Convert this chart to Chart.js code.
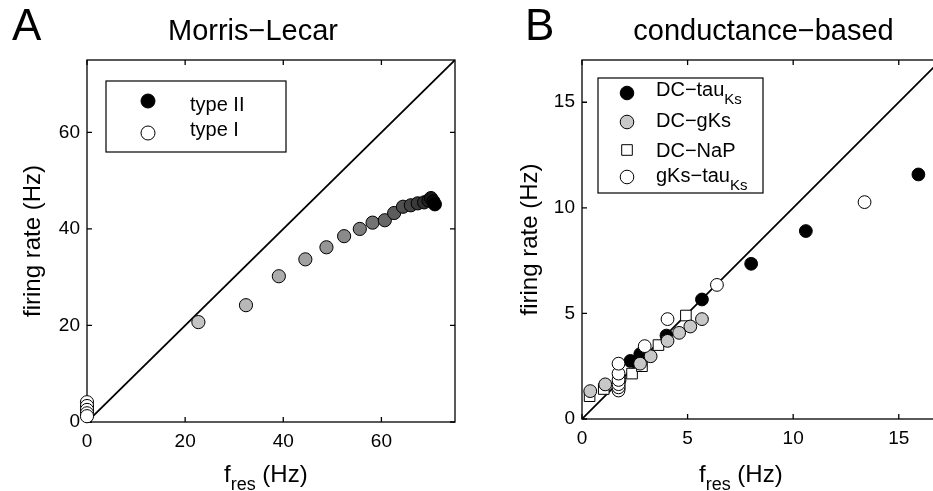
<!DOCTYPE html>
<html>
<head>
<meta charset="utf-8">
<script src="https://cdn.jsdelivr.net/npm/chart.js@4.4.1/dist/chart.umd.min.js"></script>
<style>
  html, body { margin: 0; padding: 0; background: #fff; overflow: hidden; width: 933px; height: 491px; }
  #ca { position: absolute; left: 0; top: 0; }
  #cb { position: absolute; left: 470px; top: 0; }
</style>
</head>
<body>
<canvas id="ca" width="470" height="491"></canvas>
<canvas id="cb" width="480" height="491"></canvas>
<script>
// ---------- Panel A: Morris–Lecar ----------
const mlTicks = [0, 20, 40, 60];
const mlMax = 75;
const mlTypeIIFres = [22.7, 32.4, 39.1, 44.5, 48.8, 52.4, 55.6, 58.2, 60.7, 62.6, 64.4, 66.0, 67.4, 68.7, 69.6, 70.1, 70.6, 70.9];
const mlTypeIIRate = [20.7, 24.2, 30.2, 33.7, 36.2, 38.5, 40.0, 41.3, 41.8, 43.3, 44.6, 44.9, 45.3, 45.5, 45.9, 46.4, 45.7, 45.1];
const mlTypeIFres = [0, 0, 0, 0, 0];
const mlTypeIRate = [4.1, 3.3, 2.5, 1.8, 1.2];

// ---------- Panel B: conductance-based ----------
const cbTicks = [0, 5, 10, 15];
const cbMax = 17;
const dcTauFres = [2.29, 2.76, 4.0, 5.68, 8.01, 10.6, 15.93];
const dcTauRate = [2.75, 3.08, 3.95, 5.66, 7.35, 8.9, 11.58];
const dcGksFres = [0.39, 1.1, 1.78, 2.75, 3.25, 4.05, 4.6, 5.13, 5.68];
const dcGksRate = [1.32, 1.64, 1.85, 2.62, 2.97, 3.7, 4.08, 4.38, 4.73];
const dcNapFres = [0.36, 1.03, 1.78, 2.37, 2.84, 3.62, 4.92];
const dcNapRate = [1.08, 1.42, 1.62, 2.15, 2.5, 3.5, 4.9];
const gksTauFres = [1.73, 1.73, 1.73, 1.73, 1.73, 1.73, 2.97, 4.05, 6.39, 13.38];
const gksTauRate = [1.35, 1.5, 1.65, 1.85, 2.15, 2.62, 3.45, 4.73, 6.35, 10.27];

const FONT = '"Liberation Sans", Arial, Helvetica, sans-serif';

function pts(xs, ys) { return xs.map((x, i) => ({ x: x, y: ys[i] })); }

// Boxed axes with inward tick marks on all four sides
const framePlugin = {
  id: 'frame',
  beforeDatasetsDraw(chart) {
    const { ctx, chartArea: a, scales } = chart;
    ctx.save();
    ctx.strokeStyle = '#000';
    ctx.lineWidth = 1.3;
    ctx.strokeRect(a.left, a.top, a.right - a.left, a.bottom - a.top);
    const tl = 5;
    ctx.beginPath();
    scales.x.ticks.forEach(t => {
      const px = scales.x.getPixelForValue(t.value);
      ctx.moveTo(px, a.bottom); ctx.lineTo(px, a.bottom - tl);
      ctx.moveTo(px, a.top); ctx.lineTo(px, a.top + tl);
    });
    scales.y.ticks.forEach(t => {
      const py = scales.y.getPixelForValue(t.value);
      ctx.moveTo(a.left, py); ctx.lineTo(a.left + tl, py);
      ctx.moveTo(a.right, py); ctx.lineTo(a.right - tl, py);
    });
    ctx.stroke();
    ctx.restore();
  }
};

// Draws a run of text pieces, each [text, size, baselineShift]
function drawRuns(ctx, x, y, runs) {
  let cx = x;
  runs.forEach(([txt, size, dy]) => {
    ctx.font = size + 'px ' + FONT;
    ctx.fillText(txt, cx, y + dy);
    cx += ctx.measureText(txt).width;
  });
}

function drawMarker(ctx, style, x, y, r, fill) {
  ctx.save();
  ctx.fillStyle = fill;
  ctx.strokeStyle = '#000';
  ctx.lineWidth = 1;
  ctx.beginPath();
  if (style === 'rect') {
    const s = r * Math.SQRT1_2;
    ctx.rect(x - s, y - s, 2 * s, 2 * s);
  } else {
    ctx.arc(x, y, r, 0, Math.PI * 2);
  }
  ctx.fill();
  ctx.stroke();
  ctx.restore();
}

function makeTextPlugin(cfg) {
  return {
    id: 'texts',
    afterDraw(chart) {
      const { ctx, chartArea: a } = chart;
      ctx.save();
      ctx.fillStyle = '#000';
      ctx.textBaseline = 'alphabetic';
      // panel letter
      ctx.textAlign = 'left';
      ctx.font = '44px ' + FONT;
      ctx.fillText(cfg.letter, cfg.letterX, 40);
      // title
      ctx.textAlign = 'center';
      ctx.font = '29px ' + FONT;
      ctx.fillText(cfg.title, (a.left + a.right) / 2 + cfg.titleShift, 40);
      // y label
      ctx.save();
      ctx.translate(cfg.yLabelX, (a.top + a.bottom) / 2);
      ctx.rotate(-Math.PI / 2);
      ctx.font = '24px ' + FONT;
      ctx.fillText('firing rate (Hz)', 0, 0);
      ctx.restore();
      // x label with subscript
      ctx.textAlign = 'left';
      drawRuns(ctx, cfg.xLabelX, 482, [['f', 24, 0], ['res', 18, 8], [' (Hz)', 24, 0]]);
      // legend
      const L = cfg.legend;
      ctx.fillStyle = '#fff';
      ctx.fillRect(L.x, L.y, L.w, L.h);
      ctx.strokeStyle = '#000';
      ctx.lineWidth = 1.2;
      ctx.strokeRect(L.x, L.y, L.w, L.h);
      L.items.forEach(it => {
        drawMarker(ctx, it.style, L.mx, it.my, it.r, it.fill);
        ctx.fillStyle = '#000';
        drawRuns(ctx, L.tx, it.ty, it.runs);
      });
      ctx.restore();
    }
  };
}

function axisOpts(min, max, tickList, size, pad) {
  return {
    type: 'linear',
    min: min,
    max: max,
    afterBuildTicks: s => { s.ticks = tickList.map(v => ({ value: v })); },
    afterFit: s => { if (s.isHorizontal()) s.height = size; else s.width = size; },
    grid: { display: false, drawTicks: false },
    border: { display: false },
    ticks: { padding: pad, color: '#000', font: { family: FONT, size: 19 }, maxRotation: 0, autoSkip: false }
  };
}

const commonOpts = {
  responsive: false,
  animation: false,
  events: [],
  plugins: { legend: { display: false }, tooltip: { enabled: false }, title: { display: false } }
};

// ----- Panel A chart -----
const nII = mlTypeIIFres.length;
function greyShade(ctx) {
  const t = ctx.dataIndex / (nII - 1);
  const g = Math.round(195 * (1 - t));
  return 'rgb(' + g + ',' + g + ',' + g + ')';
}

new Chart(document.getElementById('ca'), {
  type: 'scatter',
  data: {
    datasets: [
      { label: 'diag', type: 'line', data: [{ x: 0, y: 0 }, { x: mlMax, y: mlMax }], borderColor: '#000', borderWidth: 1.8, pointRadius: 0, fill: false, order: 3 },
      { label: 'type II', data: pts(mlTypeIIFres, mlTypeIIRate), pointRadius: 6.6, pointBackgroundColor: greyShade, pointBorderColor: '#000', pointBorderWidth: 1, clip: false, order: 1 },
      { label: 'type I', data: pts(mlTypeIFres, mlTypeIRate), pointRadius: 6.6, pointBackgroundColor: '#fff', pointBorderColor: '#000', pointBorderWidth: 1, clip: false, order: 2 }
    ]
  },
  options: Object.assign({}, commonOpts, {
    layout: { padding: { left: 37, right: 15, top: 60, bottom: 29 } },
    scales: {
      x: axisOpts(0, mlMax, mlTicks, 40, 8),
      y: axisOpts(0, mlMax, mlTicks, 50, 7)
    }
  }),
  plugins: [framePlugin, makeTextPlugin({
    letter: 'A', letterX: 12, title: 'Morris\u2212Lecar', titleShift: -18,
    yLabelX: 40, xLabelX: 224,
    legend: {
      x: 106, y: 81, w: 180, h: 71, mx: 148, tx: 190,
      items: [
        { style: 'circle', r: 7, fill: '#000', my: 101, ty: 111, runs: [['type II', 20, 0]] },
        { style: 'circle', r: 7, fill: '#fff', my: 133, ty: 136, runs: [['type I', 20, 0]] }
      ]
    }
  })]
});

// ----- Panel B chart -----
new Chart(document.getElementById('cb'), {
  type: 'scatter',
  data: {
    datasets: [
      { label: 'diag', type: 'line', data: [{ x: 0, y: 0 }, { x: cbMax, y: cbMax }], borderColor: '#000', borderWidth: 1.8, pointRadius: 0, fill: false, order: 5 },
      { label: 'gKs-tauKs', data: pts(gksTauFres, gksTauRate), pointRadius: 6.4, pointBackgroundColor: '#fff', pointBorderColor: '#000', pointBorderWidth: 1, clip: false, order: 1 },
      { label: 'DC-NaP', data: pts(dcNapFres, dcNapRate), pointStyle: 'rect', pointRadius: 7.5, pointBackgroundColor: '#fff', pointBorderColor: '#000', pointBorderWidth: 1, clip: false, order: 3 },
      { label: 'DC-gKs', data: pts(dcGksFres, dcGksRate), pointRadius: 6.4, pointBackgroundColor: '#c8c8c8', pointBorderColor: '#000', pointBorderWidth: 1, clip: false, order: 2 },
      { label: 'DC-tauKs', data: pts(dcTauFres, dcTauRate), pointRadius: 6.4, pointBackgroundColor: '#000', pointBorderColor: '#000', pointBorderWidth: 1, clip: false, order: 4 }
    ]
  },
  options: Object.assign({}, commonOpts, {
    layout: { padding: { left: 62, right: 9, top: 60, bottom: 32 } },
    scales: {
      x: axisOpts(0, cbMax, cbTicks, 40, 8),
      y: axisOpts(0, cbMax, cbTicks, 50, 7)
    }
  }),
  plugins: [framePlugin, makeTextPlugin({
    letter: 'B', letterX: 55, title: 'conductance\u2212based', titleShift: 2,
    yLabelX: 67, xLabelX: 229,
    legend: {
      x: 128, y: 78, w: 165, h: 115, mx: 157, tx: 186,
      items: [
        { style: 'circle', r: 6.8, fill: '#000', my: 93, ty: 96, runs: [['DC\u2212tau', 20, 0], ['Ks', 15, 8]] },
        { style: 'circle', r: 6.8, fill: '#c8c8c8', my: 122, ty: 127, runs: [['DC\u2212gKs', 20, 0]] },
        { style: 'rect', r: 7.5, fill: '#fff', my: 150, ty: 157, runs: [['DC\u2212NaP', 20, 0]] },
        { style: 'circle', r: 6.8, fill: '#fff', my: 177, ty: 182, runs: [['gKs\u2212tau', 20, 0], ['Ks', 15, 8]] }
      ]
    }
  })]
});
</script>
</body>
</html>
